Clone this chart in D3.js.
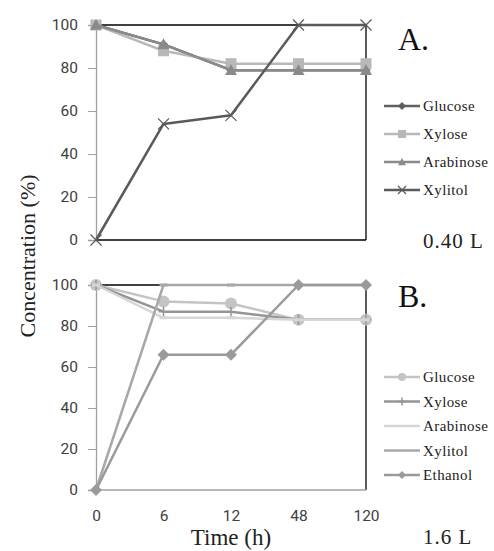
<!DOCTYPE html>
<html>
<head>
<meta charset="utf-8">
<script src="https://cdn.jsdelivr.net/npm/d3@7"></script>
<style>
  body { margin: 0; background: #fff; }
  svg { display: block; }
</style>
</head>
<body>
<div id="chart"></div>
<script>
// time points (h), shown as evenly spaced categories
const times = ["0", "6", "12", "48", "120"];
const yTicks = [0, 20, 40, 60, 80, 100];

// panel A (0.40 L)
const aGlucose = [100, 91, 79, 79, 79];
const aXylose = [100, 88, 82, 82, 82];
const aArabinose = [100, 91, 79, 79, 79];
const aXylitol = [0, 54, 58, 100, 100];

// panel B (1.6 L)
const bGlucose = [100, 92, 91, 83, 83];
const bXylose = [100, 87, 87, 83, 83];
const bArabinose = [100, 84, 84, 83, 83];
const bXylitol = [0, 100, 100, 100, 100];
const bEthanol = [0, 66, 66, 100, 100];

const W = 494, H = 551;
const sans = "Roboto, 'Noto Sans', sans-serif";
const serif = "'Liberation Serif', 'DejaVu Serif', serif";

const svg = d3.select("#chart").append("svg")
    .attr("width", W).attr("height", H);

const x = d3.scalePoint().domain(times).range([96, 366]);

const panels = [
  {
    top: 25, bottom: 240, letter: "A.", vol: "0.40 L", volY: 248, letterY: 50,
    bottomColor: "#000", xLabels: false,
    legendY: 106, legendStep: 28,
    series: [
      {name: "Glucose", values: aGlucose, color: "#5f5f5f", marker: "diamond", size: 9},
      {name: "Xylose", values: aXylose, color: "#b8b8b8", marker: "square", size: 11},
      {name: "Arabinose", values: aArabinose, color: "#8a8a8a", marker: "triangle", size: 12},
      {name: "Xylitol", values: aXylitol, color: "#5a5a5a", marker: "cross", size: 11}
    ]
  },
  {
    top: 285, bottom: 490, letter: "B.", vol: "1.6 L", volY: 544, letterY: 307,
    bottomColor: "#a0a0a0", xLabels: true,
    legendY: 377, legendStep: 24.5,
    series: [
      {name: "Glucose", values: bGlucose, color: "#c4c4c4", marker: "circle", size: 12},
      {name: "Xylose", values: bXylose, color: "#959595", marker: "plus", size: 10},
      {name: "Arabinose", values: bArabinose, color: "#d6d6d6", marker: "dash", size: 8},
      {name: "Xylitol", values: bXylitol, color: "#a8a8a8", marker: "dash", size: 8},
      {name: "Ethanol", values: bEthanol, color: "#9a9a9a", marker: "diamond", size: 12}
    ]
  }
];

function drawMarker(g, m, cx, cy, color, s) {
  const h = s / 2;
  if (m === "diamond") {
    g.append("path").attr("d", `M${cx},${cy - h}L${cx + h},${cy}L${cx},${cy + h}L${cx - h},${cy}Z`).attr("fill", color);
  } else if (m === "square") {
    g.append("rect").attr("x", cx - h).attr("y", cy - h).attr("width", s).attr("height", s).attr("fill", color);
  } else if (m === "triangle") {
    g.append("path").attr("d", `M${cx},${cy - h}L${cx + h},${cy + h * 0.8}L${cx - h},${cy + h * 0.8}Z`).attr("fill", color);
  } else if (m === "circle") {
    g.append("circle").attr("cx", cx).attr("cy", cy).attr("r", h).attr("fill", color);
  } else if (m === "cross") {
    g.append("path").attr("d", `M${cx - h},${cy - h}L${cx + h},${cy + h}M${cx + h},${cy - h}L${cx - h},${cy + h}`)
      .attr("stroke", color).attr("stroke-width", 1.2);
  } else if (m === "plus") {
    g.append("path").attr("d", `M${cx - h},${cy}L${cx + h},${cy}M${cx},${cy - h}L${cx},${cy + h}`)
      .attr("stroke", color).attr("stroke-width", 1.5);
  } else if (m === "dash") {
    g.append("rect").attr("x", cx - h).attr("y", cy - 1.5).attr("width", s).attr("height", 3).attr("fill", color);
  }
}

panels.forEach(p => {
  const y = d3.scaleLinear().domain([0, 100]).range([p.bottom, p.top]);
  const g = svg.append("g");

  // plot box: top / right / bottom lines
  g.append("line").attr("x1", x("0")).attr("x2", x("120")).attr("y1", y(100)).attr("y2", y(100))
    .attr("stroke", "#000").attr("stroke-width", 1.3);
  g.append("line").attr("x1", x("120")).attr("x2", x("120")).attr("y1", y(100)).attr("y2", y(0))
    .attr("stroke", "#000").attr("stroke-width", 1.3);
  g.append("line").attr("x1", x("0")).attr("x2", x("120")).attr("y1", y(0)).attr("y2", y(0))
    .attr("stroke", p.bottomColor).attr("stroke-width", 1.3);

  // y axis
  const yAxis = d3.axisLeft(y).tickValues(yTicks).tickSize(8).tickPadding(10);
  const ya = g.append("g").attr("transform", `translate(${x("0")},0)`).call(yAxis);
  ya.select(".domain").attr("stroke", "#a0a0a0").attr("stroke-width", 1.3);
  ya.selectAll(".tick line").attr("stroke", "#a0a0a0");
  ya.selectAll(".tick text").attr("font-family", sans).attr("font-size", 15.5).attr("fill", "#404040");

  if (p.xLabels) {
    const xAxis = d3.axisBottom(x).tickSize(0).tickPadding(20);
    const xa = g.append("g").attr("transform", `translate(0,${y(0)})`).call(xAxis);
    xa.select(".domain").remove();
    xa.selectAll(".tick text").attr("font-family", sans).attr("font-size", 15.5).attr("fill", "#404040");
  }

  const line = d3.line().x((d, i) => x(times[i])).y(d => y(d));

  p.series.forEach(s => {
    g.append("path").datum(s.values).attr("d", line)
      .attr("fill", "none").attr("stroke", s.color).attr("stroke-width", 2.5)
      .attr("stroke-linejoin", "round");
    const mg = g.append("g");
    s.values.forEach((v, i) => drawMarker(mg, s.marker, x(times[i]), y(v), s.color, s.size));
  });

  // legend
  p.series.forEach((s, i) => {
    const ly = p.legendY + i * p.legendStep;
    const lg = svg.append("g");
    lg.append("line").attr("x1", 384).attr("x2", 420).attr("y1", ly).attr("y2", ly)
      .attr("stroke", s.color).attr("stroke-width", 2.5);
    if (s.marker !== "dash")
      drawMarker(lg, s.marker, 402, ly, s.color, Math.min(s.size, 8));
    lg.append("text").attr("x", 423).attr("y", ly).attr("dy", "0.35em")
      .attr("font-family", serif).attr("font-size", 15).attr("letter-spacing", 0.4)
      .attr("fill", "#222").text(s.name);
  });

  svg.append("text").attr("x", 398).attr("y", p.letterY)
    .attr("font-family", serif).attr("font-size", 32).attr("fill", "#111").text(p.letter);
  svg.append("text").attr("x", 423).attr("y", p.volY)
    .attr("font-family", serif).attr("font-size", 21).attr("letter-spacing", 1).attr("fill", "#222").text(p.vol);
});

// axis titles
svg.append("text")
  .attr("transform", "translate(35,256) rotate(-90)")
  .attr("text-anchor", "middle")
  .attr("font-family", serif).attr("font-size", 22).attr("fill", "#222")
  .text("Concentration (%)");
svg.append("text").attr("x", 231).attr("y", 545).attr("text-anchor", "middle")
  .attr("font-family", serif).attr("font-size", 23).attr("fill", "#222")
  .text("Time (h)");
</script>
</body>
</html>
